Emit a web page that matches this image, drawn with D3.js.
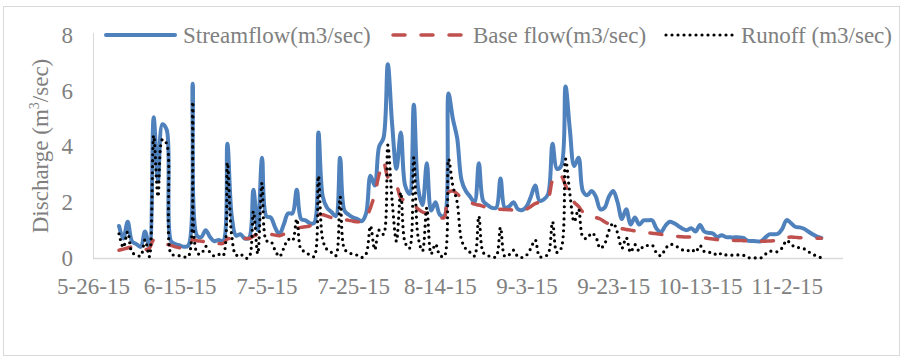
<!DOCTYPE html>
<html>
<head>
<meta charset="utf-8">
<script src="https://cdn.jsdelivr.net/npm/d3@7"></script>
<style>
  html, body { margin: 0; padding: 0; background: #fff; }
  svg { display: block; font-family: "Liberation Serif", "Times New Roman", serif; }
</style>
</head>
<body>
<svg id="chart" width="902" height="358"></svg>
<script>
// Daily record, 1 June 2015 to 10 November 2015
const firstDay = "2015-06-01";
const lastDay = "2015-11-10";

const streamflow = [
  1.15, 0.7, 1.3, 0.6, 0.5, 0.4, 0.95, 0.4, 5.05, 2.8,
  4.8, 4.6, 0.6, 0.5, 0.45, 0.4, 0.45, 6.25, 0.8, 0.75,
  1.0, 0.75, 0.6, 0.65, 0.6, 4.1, 1.5, 0.8, 0.85, 0.7,
  0.72, 2.45, 1.0, 3.6, 1.5, 1.45, 1.1, 0.85, 1.2, 1.6,
  1.6, 2.45, 1.4, 1.35, 1.25, 1.25, 4.5, 2.2, 1.8, 1.65,
  1.5, 3.6, 1.7, 1.55, 1.45, 1.4, 1.32, 1.6, 2.95, 2.6,
  4.0, 4.3, 6.95, 4.8, 3.2, 4.5, 2.6, 2.3, 5.5, 2.5,
  1.9, 3.4, 1.7, 2.0, 1.55, 1.5, 5.9, 5.0, 4.3, 2.8,
  2.4, 2.2, 2.0, 3.4, 2.05, 1.9, 1.8, 1.8, 2.85, 1.8,
  1.85, 2.0, 1.75, 1.72, 1.85, 2.2, 2.6, 2.05, 2.1, 2.3,
  4.1, 3.2, 3.3, 6.15, 4.6, 3.3, 3.6, 2.4, 2.25, 2.4,
  2.2, 1.75, 1.8, 2.2, 2.4, 2.0, 1.4, 1.75, 1.2, 1.45,
  1.2, 1.35, 1.35, 1.35, 1.05, 0.93, 1.15, 1.3, 1.25, 1.15,
  1.05, 1.0, 1.07, 0.95, 1.18, 0.95, 0.9, 0.88, 0.75, 0.82,
  0.75, 0.74, 0.74, 0.74, 0.72, 0.62, 0.61, 0.6, 0.6, 0.72,
  0.85, 0.85, 0.87, 1.05, 1.36, 1.25, 1.12, 1.1, 1.05, 0.95,
  0.85, 0.77, 0.72
];

const baseflow = [
  0.28, 0.32, 0.36, 0.4, 0.38, 0.33, 0.3, 0.35, 0.65, 0.6,
  0.55, 0.5, 0.45, 0.4, 0.37, 0.36, 0.4, 0.65, 0.62, 0.6,
  0.58, 0.55, 0.53, 0.52, 0.52, 0.68, 0.7, 0.7, 0.7, 0.7,
  0.7, 0.78, 0.85, 0.9, 0.88, 0.85, 0.82, 0.8, 0.85, 0.93,
  0.98, 1.05, 1.1, 1.12, 1.15, 1.2, 1.55, 1.55, 1.5, 1.45,
  1.42, 1.4, 1.38, 1.35, 1.32, 1.3, 1.3, 1.45, 1.8, 2.3,
  3.0, 3.45, 2.9, 2.75, 2.6, 2.15, 2.05, 1.95, 1.9, 1.75,
  1.65, 1.6, 1.55, 1.5, 1.45, 1.45, 2.35, 2.4, 2.3, 2.15,
  2.07, 2.0, 1.93, 1.9, 1.85, 1.8, 1.77, 1.75, 1.75, 1.74,
  1.73, 1.72, 1.7, 1.7, 1.75, 1.85, 1.95, 2.0, 2.05, 2.15,
  2.8, 3.0, 2.95, 2.6, 2.3, 2.0, 1.85, 1.65, 1.55, 1.5,
  1.45, 1.4, 1.3, 1.22, 1.15, 1.1, 1.05, 1.02, 1.0, 0.97,
  0.95, 0.92, 0.9, 0.89, 0.87, 0.85, 0.83, 0.81, 0.79, 0.77,
  0.76, 0.75, 0.75, 0.74, 0.73, 0.72, 0.7, 0.68, 0.66, 0.65,
  0.64, 0.64, 0.63, 0.63, 0.62, 0.61, 0.6, 0.6, 0.6, 0.6,
  0.61, 0.62, 0.64, 0.68, 0.73, 0.75, 0.74, 0.73, 0.72, 0.72,
  0.71, 0.71, 0.71
];

const runoff = [
  0.87, 0.38, 0.94, 0.2, 0.12, 0.07, 0.65, 0.05, 4.4, 2.2,
  4.25, 4.1, 0.15, 0.1, 0.08, 0.04, 0.05, 5.6, 0.18, 0.15,
  0.42, 0.2, 0.07, 0.13, 0.08, 3.42, 0.8, 0.1, 0.15, 0.0,
  0.02, 1.67, 0.15, 2.7, 0.62, 0.6, 0.28, 0.05, 0.35, 0.67,
  0.62, 1.4, 0.3, 0.23, 0.1, 0.05, 2.95, 0.65, 0.3, 0.2,
  0.08, 2.2, 0.32, 0.2, 0.13, 0.1, 0.02, 0.15, 1.15, 0.3,
  1.0, 0.85, 4.05, 2.05, 0.6, 2.35, 0.55, 0.35, 3.6, 0.75,
  0.25, 1.8, 0.15, 0.5, 0.1, 0.05, 3.55, 2.6, 2.0, 0.65,
  0.33, 0.2, 0.07, 1.5, 0.2, 0.1, 0.03, 0.05, 1.1, 0.06,
  0.12, 0.28, 0.05, 0.02, 0.1, 0.35, 0.65, 0.05, 0.05, 0.15,
  1.3, 0.2, 0.35, 3.55, 2.3, 1.3, 1.75, 0.75, 0.7, 0.9,
  0.75, 0.35, 0.5, 0.98, 1.25, 0.9, 0.35, 0.73, 0.2, 0.48,
  0.25, 0.43, 0.45, 0.46, 0.18, 0.08, 0.32, 0.49, 0.46, 0.38,
  0.29, 0.25, 0.32, 0.21, 0.45, 0.23, 0.2, 0.2, 0.09, 0.17,
  0.11, 0.1, 0.11, 0.11, 0.1, 0.01, 0.01, 0.0, 0.0, 0.12,
  0.24, 0.23, 0.23, 0.37, 0.63, 0.5, 0.38, 0.37, 0.33, 0.23,
  0.14, 0.06, 0.01
];

const xTickLabels = ["5-26-15", "6-15-15", "7-5-15", "7-25-15", "8-14-15",
                     "9-3-15", "9-23-15", "10-13-15", "11-2-15"];
const yTicks = [0, 2, 4, 6, 8];
const seriesNames = ["Streamflow(m3/sec)", "Base flow(m3/sec)", "Runoff (m3/sec)"];

const parseDay = d3.timeParse("%Y-%m-%d");
const parseTick = d3.timeParse("%-m-%-d-%y");
const dates = d3.timeDay.range(parseDay(firstDay), d3.timeDay.offset(parseDay(lastDay), 1));
const tickDates = xTickLabels.map(parseTick);

const svg = d3.select("#chart");
const W = 902, H = 358;
const plot = { left: 93, right: 843, top: 35, bottom: 258 };
const grey = "#808080";
const axisGrey = "#d9d9d9";
const serif = "Liberation Serif, Times New Roman, serif";

// outer chart frame
svg.append("rect")
  .attr("x", 3.5).attr("y", 6.5)
  .attr("width", W - 6).attr("height", H - 9)
  .attr("fill", "#fff").attr("stroke", axisGrey).attr("stroke-width", 1);

const x = d3.scaleTime()
  .domain([tickDates[0], d3.timeDay.offset(tickDates[0], 173)])
  .range([plot.left, plot.right]);
const y = d3.scaleLinear().domain([0, 8]).range([plot.bottom, plot.top]);

// axes
const xAxis = svg.append("g")
  .attr("transform", `translate(0,${plot.bottom})`)
  .call(d3.axisBottom(x).tickValues(tickDates).tickSize(0).tickPadding(20)
    .tickFormat((d, i) => xTickLabels[i]))
  .attr("font-family", serif).attr("font-size", 23);
xAxis.select(".domain").remove();
xAxis.selectAll("text").attr("fill", grey);

svg.append("line")
  .attr("x1", plot.left).attr("x2", plot.right)
  .attr("y1", plot.bottom + 0.5).attr("y2", plot.bottom + 0.5)
  .attr("stroke", axisGrey).attr("stroke-width", 1.5);

const yAxis = svg.append("g")
  .attr("transform", `translate(${plot.left},0)`)
  .call(d3.axisLeft(y).tickValues(yTicks).tickSize(0).tickPadding(20))
  .attr("font-family", serif).attr("font-size", 23);
yAxis.select(".domain").remove();
yAxis.selectAll("text").attr("fill", grey);

svg.append("line")
  .attr("x1", plot.left + 0.5).attr("x2", plot.left + 0.5)
  .attr("y1", plot.top - 2).attr("y2", plot.bottom)
  .attr("stroke", axisGrey).attr("stroke-width", 1);

// y axis title with superscript
const yTitle = svg.append("text")
  .attr("transform", "translate(48,146) rotate(-90)")
  .attr("text-anchor", "middle")
  .attr("fill", grey).attr("font-size", 23);
yTitle.append("tspan").text("Discharge (m");
yTitle.append("tspan").attr("font-size", 14).attr("dy", -9).text("3");
yTitle.append("tspan").attr("dy", 9).text("/sec)");

// series
const styles = [
  { values: streamflow, stroke: "#4F81BD", width: 4, dash: null, cap: "round" },
  { values: baseflow, stroke: "#C0504D", width: 3.5, dash: "12 16", cap: "round" },
  { values: runoff, stroke: "#000000", width: 3.2, dash: "0 6", cap: "round" }
];

const line = d3.line()
  .x((d, i) => x(dates[i]))
  .y(d => y(d))
  .curve(d3.curveCatmullRom.alpha(0.5));

styles.forEach(s => {
  svg.append("path")
    .datum(s.values)
    .attr("d", line)
    .attr("fill", "none")
    .attr("stroke", s.stroke)
    .attr("stroke-width", s.width)
    .attr("stroke-linecap", s.cap)
    .attr("stroke-linejoin", "round")
    .attr("stroke-dasharray", s.dash);
});

// legend
const legendItems = [
  { x1: 106, x2: 175, tx: 183 },
  { x1: 393, x2: 462, tx: 473 },
  { x1: 666, x2: 735, tx: 741 }
];
legendItems.forEach((p, i) => {
  const s = styles[i];
  svg.append("line")
    .attr("x1", p.x1).attr("x2", p.x2).attr("y1", 35).attr("y2", 35)
    .attr("stroke", s.stroke).attr("stroke-width", s.width)
    .attr("stroke-linecap", s.cap)
    .attr("stroke-dasharray", s.dash);
  svg.append("text")
    .attr("x", p.tx).attr("y", 43)
    .attr("fill", grey).attr("font-size", 23)
    .text(seriesNames[i]);
});
</script>
</body>
</html>
